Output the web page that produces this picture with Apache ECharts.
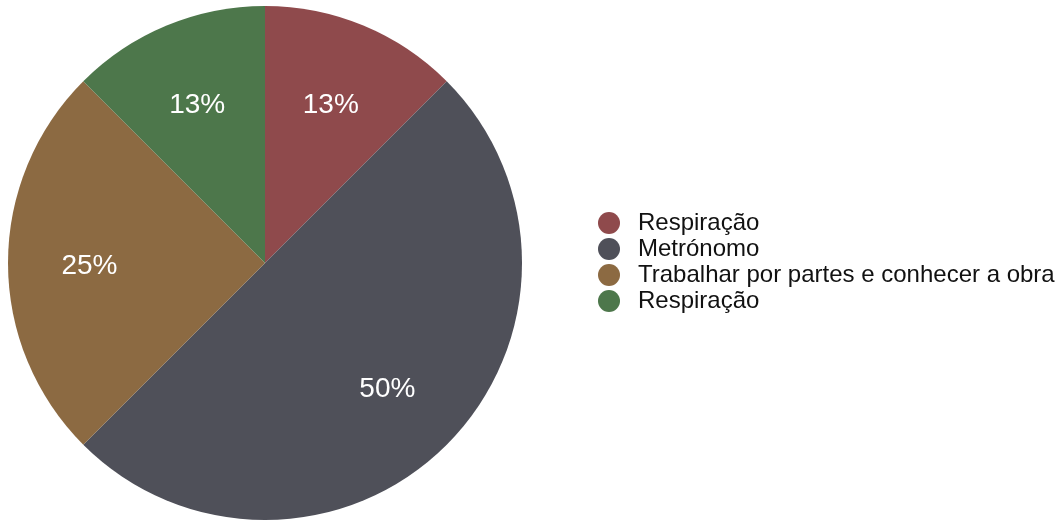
<!DOCTYPE html>
<html><head><meta charset="utf-8">
<script src="https://cdn.jsdelivr.net/npm/echarts@6/dist/echarts.min.js"></script>
<style>html,body{margin:0;padding:0;background:#fff}#c{width:1058px;height:522px}</style>
</head><body><div id="c"></div>
<script>
const categories = ['Respiração', 'Metrónomo', 'Trabalhar por partes e conhecer a obra', 'Respiração '];
const values = [1, 4, 2, 1];
const colors = ['#8f4a4c', '#4f5059', '#8c6a42', '#4d774b'];

const chart = echarts.init(document.getElementById('c'));
const data = categories.map((n, i) => ({ name: n, value: values[i], itemStyle: { color: colors[i] } }));
const FONT = '"Liberation Sans", Arial, Helvetica, sans-serif';
chart.setOption({
  animation: false,
  legend: {
    orient: 'vertical', left: 593, top: 206, itemGap: 2,
    itemWidth: 22, itemHeight: 22, icon: 'circle',
    data: categories,
    textStyle: { fontFamily: FONT, fontSize: 24, lineHeight: 22, color: '#111', padding: [0, 0, 0, 13] }
  },
  series: [
    {
      type: 'pie', center: [265, 263], radius: [0, 257], startAngle: 90, clockwise: true,
      silent: true, label: { show: false }, labelLine: { show: false }, data: data
    },
    {
      type: 'pie', center: [264, 266], radius: [86, 257], startAngle: 90, clockwise: true,
      silent: true, itemStyle: { color: 'rgba(0,0,0,0)' },
      label: {
        show: true, position: 'inside', color: '#fff', fontFamily: FONT, fontSize: 28,
        formatter: p => Math.round(p.percent) + '%'
      },
      labelLine: { show: false },
      data: categories.map((n, i) => ({ name: n, value: values[i], itemStyle: { color: 'rgba(0,0,0,0)' } }))
    }
  ]
});
</script></body></html>
